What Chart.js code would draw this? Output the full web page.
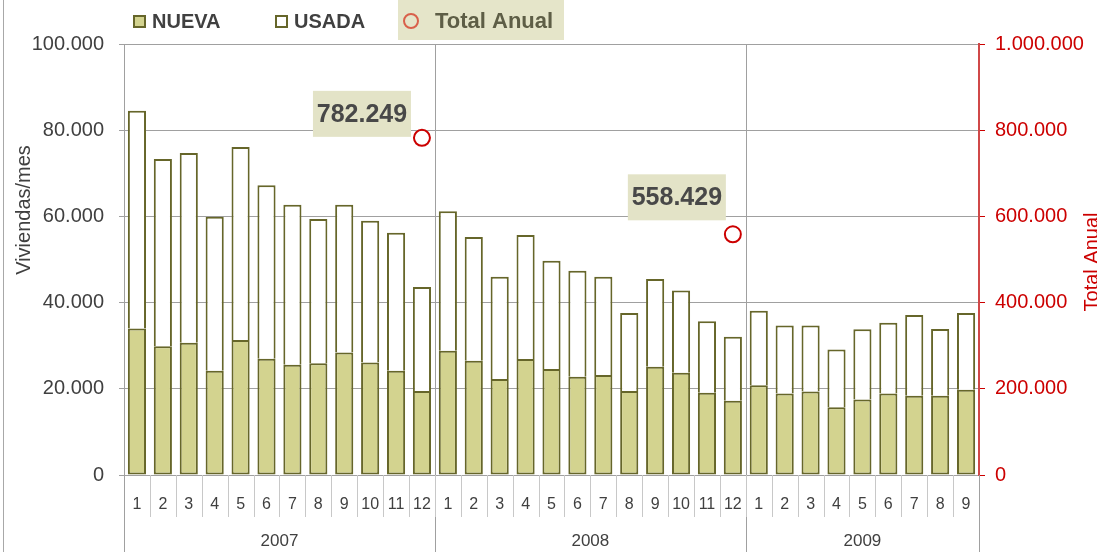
<!DOCTYPE html>
<html lang="es">
<head>
    <meta charset="UTF-8">
    <title>Viviendas/mes</title>
    <script src="https://cdn.jsdelivr.net/npm/chart.js"></script>
    <style>
        body { margin: 0; background: #fff; }
        #wrap { width: 1097px; height: 552px; }
    </style>
</head>
<body>
    <div id="wrap"><canvas id="chart" width="1097" height="552"></canvas></div>

    <script>
        // datos
        var months = ['1','2','3','4','5','6','7','8','9','10','11','12',
                      '1','2','3','4','5','6','7','8','9','10','11','12',
                      '1','2','3','4','5','6','7','8','9'];
        var years = ['2007', '2008', '2009'];
        var monthsPerYear = [12, 12, 9];

        var nueva = [34000, 29900, 30700, 24200, 31300, 27000, 25600, 25900, 28400, 26100, 24200, 19500,
                     28800, 26500, 22300, 26900, 24600, 22800, 23200, 19500, 25100, 23700, 19100, 17200,
                     20800, 18900, 19400, 15700, 17500, 18900, 18400, 18400, 19800];
        var usada = [50500, 43400, 44000, 35700, 44800, 40200, 37100, 33500, 34300, 32900, 32000, 24100,
                     32400, 28700, 23700, 28800, 25100, 24600, 22800, 18100, 20400, 19100, 16600, 14900,
                     17300, 15800, 15300, 13400, 16300, 16400, 18700, 15500, 17800];

        var totalAnual = [782249, 558429];
        var totalAnualIndex = [11, 23];

        var leftTicks = [0, 20000, 40000, 60000, 80000, 100000];
        var rightTicks = [0, 200000, 400000, 600000, 800000, 1000000];

        // serie de puntos: solo en diciembre
        var totalData = months.map(function () { return null; });
        totalAnualIndex.forEach(function (idx, i) { totalData[idx] = totalAnual[i]; });

        function fmt(v) {
            return String(v).replace(/\B(?=(\d{3})+(?!\d))/g, '.');
        }

        var FONT = '"Liberation Sans", Arial, sans-serif';
        var OLIVE = '#66662a';
        var FILL = '#d3d38f';
        var GRID = '#a0a0a0';
        var RED = '#cc0000';

        var extras = {
            id: 'extras',
            beforeDatasetsDraw: function (chart) {
                var c = chart.ctx, a = chart.chartArea, xs = chart.scales.x;
                c.save();
                c.strokeStyle = GRID;
                c.lineWidth = 1;
                // separadores de año
                var n = 0;
                for (var y = 0; y < monthsPerYear.length - 1; y++) {
                    n += monthsPerYear[y];
                    var bx = Math.round((xs.getPixelForValue(n - 1) + xs.getPixelForValue(n)) / 2) + 0.5;
                    c.beginPath();
                    c.moveTo(bx, a.top);
                    c.lineTo(bx, chart.height);
                    c.stroke();
                }
                c.restore();
            },
            afterDraw: function (chart) {
                var c = chart.ctx, a = chart.chartArea, xs = chart.scales.x;
                var H = chart.height;
                c.save();

                // separadores de meses
                c.strokeStyle = '#c8c8c8';
                c.lineWidth = 1;
                for (var i = 0; i < months.length - 1; i++) {
                    var mx = Math.round((xs.getPixelForValue(i) + xs.getPixelForValue(i + 1)) / 2) + 0.5;
                    c.beginPath();
                    c.moveTo(mx, a.bottom);
                    c.lineTo(mx, a.bottom + 42);
                    c.stroke();
                }
                c.strokeStyle = GRID;
                c.beginPath();
                c.moveTo(Math.round(a.left) + 0.5, a.bottom);
                c.lineTo(Math.round(a.left) + 0.5, H);
                c.moveTo(Math.round(a.right) + 0.5, a.bottom);
                c.lineTo(Math.round(a.right) + 0.5, H);
                c.stroke();

                // etiquetas de año
                c.fillStyle = '#404040';
                c.font = '17px ' + FONT;
                c.textAlign = 'center';
                c.textBaseline = 'middle';
                var start = 0;
                years.forEach(function (yr, k) {
                    var end = start + monthsPerYear[k] - 1;
                    var left = start === 0 ? a.left : (xs.getPixelForValue(start - 1) + xs.getPixelForValue(start)) / 2;
                    var right = end === months.length - 1 ? a.right : (xs.getPixelForValue(end) + xs.getPixelForValue(end + 1)) / 2;
                    c.fillText(yr, (left + right) / 2, 541);
                    start = end + 1;
                });

                // marco exterior
                c.strokeStyle = '#a8a8a8';
                c.beginPath();
                c.moveTo(3.5, 0);
                c.lineTo(3.5, H);
                c.stroke();

                // titulos de ejes
                c.save();
                c.translate(24, 210);
                c.rotate(-Math.PI / 2);
                c.fillStyle = '#404040';
                c.font = '20px ' + FONT;
                c.fillText('Viviendas/mes', 0, 0);
                c.restore();

                c.save();
                c.translate(1092, 262);
                c.rotate(-Math.PI / 2);
                c.fillStyle = RED;
                c.font = '20px ' + FONT;
                c.fillText('Total Anual', 0, 0);
                c.restore();

                // etiquetas de total anual
                var meta = chart.getDatasetMeta(2);
                var offs = [[-60, -24], [-56, -37]];
                c.font = 'bold 25px ' + FONT;
                totalAnualIndex.forEach(function (idx, i) {
                    var p = meta.data[idx];
                    var cx = p.x + offs[i][0], cy = p.y + offs[i][1];
                    c.fillStyle = '#e3e3c7';
                    c.fillRect(cx - 49, cy - 23, 98, 46);
                    c.fillStyle = '#484848';
                    c.fillText(fmt(totalAnual[i]), cx, cy + 1);
                });

                // leyenda
                c.textAlign = 'left';
                c.lineWidth = 2;
                c.strokeStyle = OLIVE;
                c.fillStyle = FILL;
                c.fillRect(134, 16, 11, 11);
                c.strokeRect(134, 16, 11, 11);
                c.fillStyle = '#fff';
                c.fillRect(276, 16, 11, 11);
                c.strokeRect(276, 16, 11, 11);
                c.fillStyle = '#404040';
                c.font = 'bold 20px ' + FONT;
                c.fillText('NUEVA', 152, 22);
                c.fillText('USADA', 294, 22);

                c.fillStyle = '#e5e5c9';
                c.fillRect(398, 0, 166, 40);
                c.strokeStyle = '#d9604a';
                c.lineWidth = 2;
                c.beginPath();
                c.arc(411, 21, 7, 0, Math.PI * 2);
                c.stroke();
                c.fillStyle = '#5e5e46';
                c.font = 'bold 22px ' + FONT;
                c.fillText('Total Anual', 435, 22);

                c.restore();
            }
        };

        var ctx = document.getElementById('chart').getContext('2d');
        var chart = new Chart(ctx, {
            type: 'bar',
            data: {
                labels: months,
                datasets: [{
                    label: 'NUEVA',
                    data: nueva,
                    backgroundColor: FILL,
                    borderColor: OLIVE,
                    borderWidth: 2,
                    borderSkipped: false,
                    yAxisID: 'y',
                    order: 2
                }, {
                    label: 'USADA',
                    data: usada,
                    backgroundColor: '#ffffff',
                    borderColor: OLIVE,
                    borderWidth: { top: 2, left: 2, right: 2, bottom: 0 },
                    borderSkipped: false,
                    yAxisID: 'y',
                    order: 2
                }, {
                    type: 'line',
                    label: 'Total Anual',
                    data: totalData,
                    yAxisID: 'y2',
                    showLine: false,
                    pointStyle: 'circle',
                    pointRadius: 8,
                    pointBorderWidth: 2,
                    pointBorderColor: RED,
                    pointBackgroundColor: 'rgba(255,255,255,0)',
                    order: 1
                }]
            },
            options: {
                responsive: false,
                animation: false,
                devicePixelRatio: 1,
                layout: { padding: { top: 44, left: 0, right: 0, bottom: 0 } },
                datasets: { bar: { barPercentage: 0.7, categoryPercentage: 1 } },
                plugins: {
                    legend: { display: false },
                    tooltip: { enabled: false }
                },
                scales: {
                    x: {
                        stacked: true,
                        grid: { display: false },
                        border: { display: false },
                        ticks: {
                            color: '#404040',
                            font: { family: FONT, size: 16 },
                            padding: 12,
                            maxRotation: 0,
                            autoSkip: false
                        },
                        afterFit: function (s) { s.height = 77; }
                    },
                    y: {
                        stacked: true,
                        position: 'left',
                        min: 0,
                        max: 100000,
                        afterBuildTicks: function (s) {
                            s.ticks = leftTicks.map(function (v) { return { value: v }; });
                        },
                        grid: { color: GRID, tickLength: 5 },
                        border: { color: GRID },
                        ticks: {
                            color: '#404040',
                            font: { family: FONT, size: 20 },
                            padding: 15,
                            callback: function (v) { return fmt(v); }
                        },
                        afterFit: function (s) { s.width = 124; }
                    },
                    y2: {
                        position: 'right',
                        min: 0,
                        max: 1000000,
                        afterBuildTicks: function (s) {
                            s.ticks = rightTicks.map(function (v) { return { value: v }; });
                        },
                        grid: { drawOnChartArea: false, color: RED, tickLength: 6 },
                        border: { color: '#d04848', width: 2 },
                        ticks: {
                            color: RED,
                            font: { family: FONT, size: 20 },
                            padding: 10,
                            callback: function (v) { return fmt(v); }
                        },
                        afterFit: function (s) { s.width = 118; }
                    }
                }
            },
            plugins: [extras]
        });
    </script>
</body>
</html>
